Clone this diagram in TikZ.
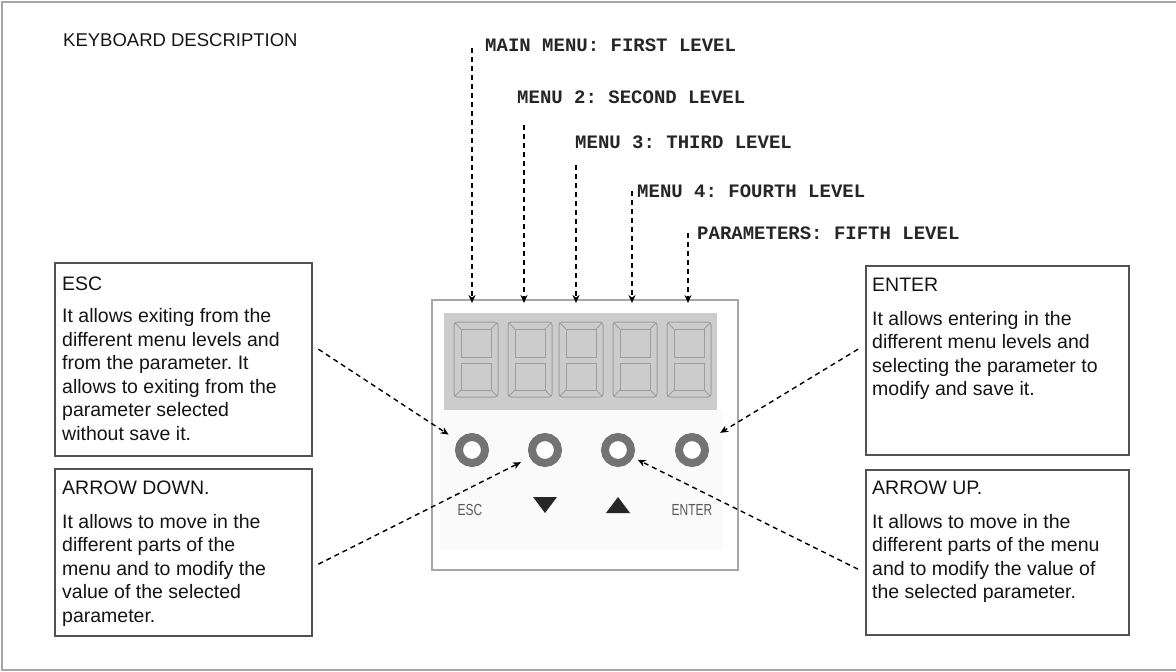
\documentclass[tikz,border=0pt]{standalone}
\usepackage{fontspec}
\setmainfont{Liberation Sans}
\newfontfamily\monofnt{Liberation Mono}
\newfontfamily\keyfnt[FakeStretch=0.75]{Liberation Sans}
\usetikzlibrary{arrows.meta}
\frenchspacing

\begin{document}
\begin{tikzpicture}[x=1pt,y=-1pt,
  infobox/.style={draw=black!68,line width=2.4pt,anchor=north west,inner sep=0pt},
  boxtext/.style={anchor=north west,inner sep=0pt,align=left,text=black!92,font=\fontsize{19.5}{23.5}\selectfont},
  level/.style={anchor=west,inner sep=0pt,font=\monofnt\bfseries\fontsize{19}{19}\selectfont,text=black!85},
  conn/.style={line width=1.4pt,dash pattern=on 5pt off 4pt,-{Stealth[length=8pt,width=7pt]}},
  keybtn/.style={circle,draw=black!55,line width=8pt,fill=white,minimum size=26pt,inner sep=0pt},
  keylbl/.style={font=\keyfnt\fontsize{16}{16}\selectfont,text=black!65,inner sep=0pt}]
  % pixel grid: x to the right, y downwards, 1176 x 672
  \useasboundingbox (0,0) rectangle (1176,672);
  \draw[black!35,line width=2pt] (1176,2) -- (2,2) -- (2,670) -- (1176,670);
  \node[anchor=west,inner sep=0pt,font=\fontsize{18.5}{18.5}\selectfont,text=black!92] (title) at (63,40) {KEYBOARD DESCRIPTION};

  % keyboard front
  \node[draw=black!35,line width=2pt,fill=white,minimum width=306pt,minimum height=270pt,anchor=north west,inner sep=0pt] (panel) at (431,299) {};
  \fill[black!2] (440,410) rectangle (722,550);
  \node[fill=black!20,minimum width=273pt,minimum height=97pt,anchor=north west,inner sep=0pt] (disp) at (444,313) {};
  \foreach \c in {476,530,581,635,689} {
    \draw[black!38,line width=1pt,rounded corners=3pt] (\c-22,322) rectangle (\c+22,397);
    \draw[black!38,line width=0.8pt] (\c-15,329) rectangle (\c+15,357) (\c-15,363) rectangle (\c+15,390);
    \draw[black!38,line width=0.8pt] (\c-21,323) -- (\c-15,329) (\c+21,323) -- (\c+15,329)
      (\c-21,396) -- (\c-15,390) (\c+21,396) -- (\c+15,390);
  }
  \foreach \n/\x in {kesc/472,kdown/545,kup/618,kenter/692}
    \node[keybtn] (\n) at (\x,450) {};
  \node[keylbl] (lesc) at (470,510) {ESC};
  \node[keylbl] (lenter) at (692,510) {ENTER};
  \fill[black!85] (533,497) -- (557,497) -- (545,513) -- cycle;
  \fill[black!85] (606,513) -- (630,513) -- (618,497) -- cycle;

  % menu levels
  \node[level] (m1) at (485,45) {MAIN MENU: FIRST LEVEL};
  \node[level] (m2) at (517,97) {MENU 2: SECOND LEVEL};
  \node[level] (m3) at (575,142) {MENU 3: THIRD LEVEL};
  \node[level] (m4) at (637,191) {MENU 4: FOURTH LEVEL};
  \node[level] (m5) at (697,233) {PARAMETERS: FIFTH LEVEL};
  \foreach \n/\dx/\dy in {1/-13/3, 2/7/28, 3/1/23, 4/-5/0, 5/-9/0} {
    \path ([shift={(\dx,\dy)}]m\n.west) coordinate (s\n);
    \draw[conn,shorten >=-4pt] (s\n) -- (s\n |- panel.north);
  }

  % key descriptions
  \node[infobox,minimum width=257pt,minimum height=193pt] (escbox) at (54,262) {};
  \node[boxtext] (esctxt) at ([shift={(8,15)}]escbox.north west) {ESC\\[8.5pt]
    It allows exiting from the\\different menu levels and\\from the parameter. It\\allows to exiting from the\\parameter selected\\without save it.};
  \node[infobox,minimum width=257pt,minimum height=167pt] (downbox) at (54,468) {};
  \node[boxtext] (downtxt) at ([shift={(8,13)}]downbox.north west) {ARROW DOWN.\\[10pt]
    It allows to move in the\\different parts of the\\menu and to modify the\\value of the selected\\parameter.};
  \node[infobox,minimum width=263pt,minimum height=189pt] (enterbox) at (865,265) {};
  \node[boxtext] (entertxt) at ([shift={(7,13)}]enterbox.north west) {ENTER\\[10pt]
    It allows entering in the\\different menu levels and\\selecting the parameter to\\modify and save it.};
  \node[infobox,minimum width=263pt,minimum height=165pt] (upbox) at (865,469) {};
  \node[boxtext] (uptxt) at ([shift={(7,12)}]upbox.north west) {ARROW UP.\\[10pt]
    It allows to move in the\\different parts of the menu\\and to modify the value of\\the selected parameter.};

  \draw[conn,shorten >=11pt] ([shift={(5,-10.5)}]escbox.east) -- (kesc);
  \draw[conn,shorten >=10pt] ([shift={(5,11.5)}]downbox.east) -- (kdown);
  \draw[conn,shorten >=5pt] ([shift={(-7,16.5)}]upbox.west) -- (kup);
  \draw[conn,shorten >=16pt] ([shift={(-7,-11.5)}]enterbox.west) -- (kenter);
\end{tikzpicture}
\end{document}
